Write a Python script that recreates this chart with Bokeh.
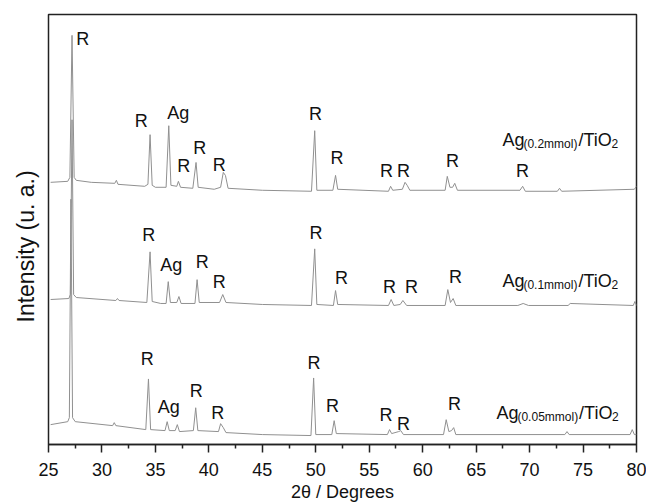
from bokeh.plotting import figure
from bokeh.models import Range1d, FixedTicker, Title
from bokeh.core.properties import value
from bokeh.embed import file_html
from bokeh.resources import INLINE

# ---- data (2theta in degrees, intensity in arbitrary units, traces already stacked) ----
tt_02 = [25.2, 26.8, 27.0, 27.2, 27.4, 27.6, 29.0, 31.2, 31.35, 31.5, 34.0, 34.3, 34.5, 34.7, 35.0,
         36.0, 36.25, 36.45, 37.0, 37.15, 37.35, 38.5, 38.8, 39.0, 40.5, 41.1, 41.35, 41.55, 41.8,
         45.0, 49.6, 49.9, 50.1, 51.6, 51.85, 52.05, 56.8, 57.0, 57.2, 58.1, 58.35, 58.55, 58.8,
         62.1, 62.3, 62.55, 62.8, 63.0, 63.25, 69.1, 69.35, 69.6, 72.6, 72.8, 73.0, 79.8, 80.0]
int_02 = [264, 265, 269, 412, 269, 266, 264, 263, 266, 262, 260, 262, 312, 261, 259,
          259, 321, 261, 260, 265, 259, 258, 284, 259, 257, 259, 274, 271, 258,
          256, 255, 316, 256, 256, 271, 257, 255, 260, 256, 257, 264, 261, 256,
          256, 270, 259, 259, 263, 256, 256, 260, 255, 255, 258, 255, 257, 260]

tt_01 = [25.2, 26.9, 27.05, 27.2, 27.35, 27.6, 31.3, 31.45, 31.6, 34.2, 34.5, 34.7,
         35.5, 36.0, 36.2, 36.4, 37.0, 37.2, 37.4, 38.7, 38.9, 39.1, 41.0, 41.3, 41.6,
         45.0, 49.6, 49.9, 50.1, 51.65, 51.85, 52.05, 56.8, 57.05, 57.3, 57.9, 58.15, 58.5,
         62.1, 62.35, 62.6, 62.85, 63.1, 63.3, 68.9, 69.4, 69.9, 73.6, 73.8, 79.7, 79.85, 80.0]
int_01 = [146, 147, 151, 327, 151, 148, 145, 147, 145, 143, 194, 144,
          142, 142, 164, 143, 143, 149, 142, 142, 166, 143, 143, 151, 143,
          141, 140, 197, 141, 140, 155, 141, 140, 146, 140, 141, 145, 140,
          140, 156, 143, 147, 140, 140, 140, 142, 140, 140, 142, 140, 144, 140]

tt_005 = [25.2, 26.8, 26.95, 27.1, 27.25, 27.5, 31.0, 31.15, 31.3, 34.1, 34.35, 34.55,
          35.9, 36.1, 36.3, 36.85, 37.05, 37.25, 38.55, 38.77, 38.97, 40.9, 41.1, 41.35, 41.6,
          45.0, 49.55, 49.8, 50.0, 51.5, 51.72, 51.92, 56.7, 56.9, 57.1, 57.75, 57.95, 58.2,
          61.95, 62.2, 62.45, 62.7, 62.9, 63.1, 73.3, 73.5, 73.7, 79.4, 79.6, 79.8, 80.0]
int_005 = [20, 23, 27, 247, 27, 23, 19, 22, 19, 15, 66, 15,
           14, 23, 14, 14, 20, 13, 14, 37, 14, 13, 21, 17, 12,
           10, 9, 67, 10, 10, 24, 11, 10, 15, 11, 13, 14, 10,
           10, 25, 13, 14, 17, 10, 10, 13, 10, 10, 15, 10, 10]

# peak annotations
peak_text = ["R", "R", "Ag", "R", "R", "R", "R", "R", "R", "R", "R", "R",
             "R", "Ag", "R", "R", "R", "R", "R", "R", "R",
             "R", "Ag", "R", "R", "R", "R", "R", "R", "R"]
peak_x = [28.2, 33.67, 37.13, 37.64, 39.14, 40.96, 49.98, 51.99, 56.62, 58.21, 62.79, 69.33,
          34.37, 36.48, 39.37, 40.96, 50.03, 52.41, 56.90, 58.95, 63.06,
          34.23, 36.24, 38.81, 40.82, 49.84, 51.57, 56.57, 58.21, 62.97]
peak_y = [408, 325.5, 333.5, 280, 298.5, 281, 333, 288.5, 275.5, 275.5, 285.5, 275.5,
          210.5, 181, 183.5, 163.5, 212.5, 167.5, 159, 159, 168.5,
          86.5, 38, 53.5, 32, 82, 38.5, 29.5, 20.5, 40.5]

series_sub = ["(0.2mmol)", "(0.1mmol)", "(0.05mmol)"]
series_x = [67.46, 67.46, 66.9]
series_y = [307, 165, 32]

x_ticks = [25, 30, 35, 40, 45, 50, 55, 60, 65, 70, 75, 80]
x_minor = [27.5, 32.5, 37.5, 42.5, 47.5, 52.5, 57.5, 62.5, 67.5, 72.5, 77.5]

x_title = "2θ / Degrees"
y_title = "Intensity (u. a.)"

FONT = "Liberation Sans"
INK = "#111111"

p = figure(width=646, height=504, output_backend="svg", toolbar_location=None,
           x_range=Range1d(25, 80), y_range=Range1d(0, 433),
           min_border_left=48, min_border_right=10, min_border_top=14, min_border_bottom=57)
p.grid.visible = False
p.background_fill_color = "white"
p.border_fill_color = "white"
p.outline_line_color = "#222222"
p.outline_line_width = 1.5
p.outline_line_alpha = 1.0

for xs, ys in [(tt_02, int_02), (tt_01, int_01), (tt_005, int_005)]:
    p.line(xs, ys, line_color="#909090", line_width=1)

p.text(x=peak_x, y=peak_y, text=peak_text, text_font=value(FONT), text_font_size="18px",
       text_align="center", text_baseline="middle", text_color=INK)

# series labels composed of pieces (normal and subscript)
for sub, sx, sy in zip(series_sub, series_x, series_y):
    n_digits = len(sub) - 7
    sub_w = 12 * (0.333 * 2 + 0.278 + 0.556 * n_digits + 0.833 * 2 + 0.556 + 0.222)
    p.text(x=[sx], y=[sy], text=["Ag"], text_font=value(FONT), text_font_size="18px",
           text_align="left", text_baseline="alphabetic", text_color=INK)
    p.text(x=[sx], y=[sy], text=[sub], x_offset=21, y_offset=4, text_font=value(FONT),
           text_font_size="12px", text_align="left", text_baseline="alphabetic", text_color=INK)
    p.text(x=[sx], y=[sy], text=["/TiO"], x_offset=21 + sub_w + 1, text_font=value(FONT),
           text_font_size="18px", text_align="left", text_baseline="alphabetic", text_color=INK)
    p.text(x=[sx], y=[sy], text=["2"], x_offset=21 + sub_w + 1 + 33, y_offset=4, text_font=value(FONT),
           text_font_size="12px", text_align="left", text_baseline="alphabetic", text_color=INK)

# x axis
xa = p.xaxis[0]
xa.ticker = FixedTicker(ticks=x_ticks, minor_ticks=x_minor)
xa.axis_line_color = "#222222"
xa.axis_line_width = 1.5
xa.major_tick_in = 0
xa.major_tick_out = 8
xa.minor_tick_in = 0
xa.minor_tick_out = 4
xa.major_tick_line_color = "#222222"
xa.minor_tick_line_color = "#222222"
xa.major_tick_line_width = 1.5
xa.minor_tick_line_width = 1.5
xa.major_label_text_font = FONT
xa.major_label_text_font_size = "18px"
xa.major_label_text_color = INK
xa.major_label_standoff = 10
xa.axis_label = x_title
xa.axis_label_text_font = FONT
xa.axis_label_text_font_size = "18px"
xa.axis_label_text_font_style = "normal"
xa.axis_label_text_color = INK
xa.axis_label_standoff = 3

# y axis: no ticks or labels; the frame outline draws its line
p.yaxis.visible = False

# y title as a side title, started from the bottom and shifted up
p.add_layout(Title(text=y_title, align="left", offset=122, standoff=20, text_font=FONT,
                   text_font_size="23px", text_font_style="normal", text_color=INK), "left")

open("out.html", "w").write(file_html(p, INLINE))
